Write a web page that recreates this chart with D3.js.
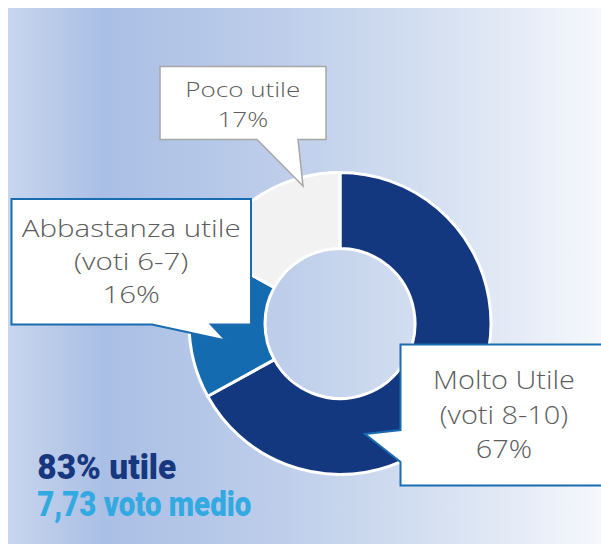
<!DOCTYPE html>
<html>
<head>
<meta charset="utf-8">
<script src="https://cdn.jsdelivr.net/npm/d3@7"></script>
<style>
  html, body { margin: 0; padding: 0; background: #ffffff; }
  svg { display: block; }
</style>
</head>
<body>
<div id="chart"></div>
<script>
// ---------- DATA ----------
const categories = ["Molto Utile", "Abbastanza utile", "Poco utile"];
const subLabels  = ["(voti 8-10)", "(voti 6-7)", ""];
const values     = [67, 16, 17];
const summaryLines = ["83% utile", "7,73 voto medio"];

// ---------- STYLE / LAYOUT ----------
const W = 601, H = 544;
const sliceColors = ["#14387f", "#156baf", "#f2f2f2"];
const center = { x: 340, y: 323.5 };
const rOuter = 151, rInner = 75;

// callout layout (annotation geometry)
const callouts = [
  { // Molto Utile
    box: [400.5, 344.5, 608, 485.5], side: "left", base: [430, 462], tip: [365, 434],
    stroke: "#1a6cb0", sw: 2, cx: 504, baselines: [389, 423.5, 458], size: 25.5, target: 142
  },
  { // Abbastanza utile
    box: [11.5, 199, 251, 324.5], side: "bottom", base: [152, 211], tip: [226, 340.5],
    stroke: "#1a6cb0", sw: 2, cx: 131.2, baselines: [237.3, 270.2, 302.8], size: 23.5, target: 219
  },
  { // Poco utile
    box: [160, 66.5, 326, 139.5], side: "bottom", base: [257, 298], tip: [303, 186],
    stroke: "#a6a6a6", sw: 1.5, cx: 242.8, baselines: [97.3, 126.7], size: 19.5, target: 115
  }
];

const svg = d3.select("#chart").append("svg")
  .attr("width", W).attr("height", H);

// ---------- BACKGROUND ----------
const defs = svg.append("defs");
const grad = defs.append("linearGradient").attr("id", "bg")
  .attr("x1", "0%").attr("x2", "100%").attr("y1", "0%").attr("y2", "0%");
[[0, "#c8d6ee"], [0.16, "#aabfe5"], [0.45, "#bdcdea"], [0.68, "#d1ddf0"], [1, "#f5f7fc"]]
  .forEach(([o, c]) => grad.append("stop").attr("offset", o).attr("stop-color", c));
svg.append("rect").attr("x", 8).attr("y", 8).attr("width", W - 8).attr("height", H - 8)
  .attr("fill", "url(#bg)");

// ---------- DONUT ----------
const pie = d3.pie().sort(null).value(d => d).startAngle(0).endAngle(2 * Math.PI);
const arc = d3.arc().innerRadius(rInner).outerRadius(rOuter);
const arcs = pie(values);

svg.append("g").attr("transform", `translate(${center.x},${center.y})`)
  .selectAll("path").data(arcs).join("path")
  .attr("d", arc)
  .attr("fill", (d, i) => sliceColors[i])
  .attr("stroke", "#ffffff")
  .attr("stroke-width", 3)
  .attr("stroke-linejoin", "round");

// ---------- CALLOUTS ----------
function calloutPath(c) {
  const [x0, y0, x1, y1] = c.box;
  const p = d3.path();
  if (c.side === "bottom") {
    p.moveTo(x0, y0); p.lineTo(x1, y0); p.lineTo(x1, y1);
    p.lineTo(c.base[1], y1); p.lineTo(c.tip[0], c.tip[1]); p.lineTo(c.base[0], y1);
    p.lineTo(x0, y1); p.closePath();
  } else {
    p.moveTo(x0, y0); p.lineTo(x1, y0); p.lineTo(x1, y1); p.lineTo(x0, y1);
    p.lineTo(x0, c.base[1]); p.lineTo(c.tip[0], c.tip[1]); p.lineTo(x0, c.base[0]);
    p.closePath();
  }
  return p.toString();
}

const cg = svg.append("g");
categories.forEach((cat, i) => {
  const c = callouts[i];
  cg.append("path").attr("d", calloutPath(c))
    .attr("fill", "#ffffff").attr("stroke", c.stroke).attr("stroke-width", c.sw)
    .attr("stroke-linejoin", "miter");
  const lines = [cat, subLabels[i], values[i] + "%"].filter(s => s !== "");
  const texts = lines.map((t, j) => cg.append("text")
    .attr("x", c.cx).attr("y", c.baselines[j])
    .attr("text-anchor", "middle")
    .attr("font-family", "'Open Sans', 'Noto Sans', sans-serif")
    .attr("font-weight", 300)
    .attr("font-size", c.size)
    .attr("fill", "#5c5c5c")
    .text(t));
  // stretch glyphs horizontally to mimic the reference's wide geometric face
  const ratio = c.target / texts[0].node().getComputedTextLength();
  texts.forEach(t => {
    const L = t.node().getComputedTextLength();
    t.attr("textLength", L * ratio).attr("lengthAdjust", "spacingAndGlyphs");
  });
});

// ---------- SUMMARY ----------
const summaryStyle = [
  { x: 37.3, y: 479.3, w: 139, color: "#17387f" },
  { x: 37.3, y: 516, w: 214, color: "#33a9e1" }
];
summaryLines.forEach((t, i) => {
  const s = summaryStyle[i];
  svg.append("text")
    .attr("x", s.x).attr("y", s.y)
    .attr("font-family", "'Roboto', 'Liberation Sans', sans-serif")
    .attr("font-weight", 900)
    .attr("font-size", 34.5)
    .attr("fill", s.color)
    .attr("textLength", s.w)
    .attr("lengthAdjust", "spacingAndGlyphs")
    .text(t);
});
</script>
</body>
</html>
